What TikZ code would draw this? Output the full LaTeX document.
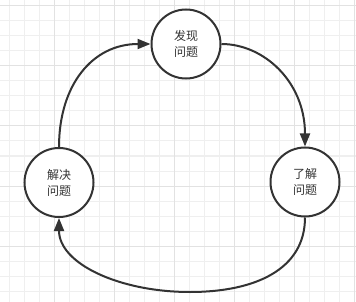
\documentclass[tikz,border=0pt]{standalone}
\usepackage{fontspec}
\newfontfamily\cjk{Noto Sans CJK SC}
\usetikzlibrary{arrows.meta}
\definecolor{minorgrid}{HTML}{EFEFEF}
\definecolor{majorgrid}{HTML}{E2E2E2}
\definecolor{ink}{HTML}{333333}
\begin{document}
\begin{tikzpicture}[x=1pt,y=-1pt,
  state/.style={circle, draw=ink, line width=2pt, fill=white, minimum size=69pt,
    inner sep=0pt, align=center, font=\cjk\fontsize{12}{16}\selectfont, text=ink},
  flow/.style={draw=ink, line width=2pt, -{Triangle[length=13pt,width=10pt]}}]
\fill[white] (0,0) rectangle (356,302);
\useasboundingbox (0,0) rectangle (356,302);
\foreach \x in {9.3,24.3,...,356} \draw[minorgrid, line width=1pt] (\x,0) -- (\x,302);
\foreach \y in {6,21,...,302} \draw[minorgrid, line width=1pt] (0,\y) -- (356,\y);
\foreach \x in {54.3,114.3,...,356} \draw[majorgrid, line width=1pt] (\x,0) -- (\x,302);
\foreach \y in {6,66,...,302} \draw[majorgrid, line width=1pt] (0,\y) -- (356,\y);

\node[state] (T) at (186,44) {发现\\问题};
\node[state] (L) at (59,182.5) {解决\\问题};
\node[state] (R) at (305,182) {了解\\问题};
\coordinate (B) at (190,292);

\draw[flow] (L.north) .. controls +(0,-62) and +(-58,0) .. (T.west);
\draw[flow] (T.east) .. controls +(42,0) and +(0,-65) .. (R.north);
\draw[flow] (R.south) .. controls +(0,52) and +(65,0) .. (B) .. controls +(-70,0) and +(0,46) .. (L.south);
\end{tikzpicture}
\end{document}
